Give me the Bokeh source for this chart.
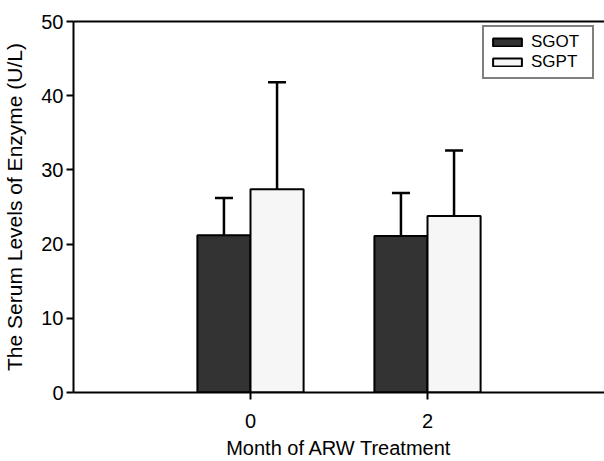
from bokeh.plotting import figure
from bokeh.models import (ColumnDataSource, Whisker, TeeHead, Legend, LegendItem,
                          FixedTicker, LinearAxis)
from bokeh.embed import file_html
from bokeh.resources import INLINE

# Data
months = [0, 2]
tick_labels = {0: "0", 2: "2"}
y_ticks = [0, 10, 20, 30, 40, 50]
sgot = [21.2, 21.1]
sgot_sd = [5.0, 5.8]
sgpt = [27.4, 23.8]
sgpt_sd = [14.4, 8.8]
series_names = ["SGOT", "SGPT"]

offset = 0.3
bar_w = 0.6
FONT = "Liberation Sans"

src_got = ColumnDataSource(dict(
    x=[m - offset for m in months], top=sgot,
    upper=[v + s for v, s in zip(sgot, sgot_sd)]))
src_gpt = ColumnDataSource(dict(
    x=[m + offset for m in months], top=sgpt,
    upper=[v + s for v, s in zip(sgpt, sgpt_sd)]))

p = figure(width=604, height=461, x_range=(-2, 4), y_range=(0, 50),
           output_backend="svg", toolbar_location=None,
           min_border_left=71, min_border_right=0, min_border_top=21,
           min_border_bottom=68)
p.grid.visible = False
p.outline_line_color = None
p.background_fill_color = "white"

r1 = p.vbar(x="x", top="top", width=bar_w, source=src_got, bottom=0,
            fill_color="#333333", line_color="black", line_width=2)
r2 = p.vbar(x="x", top="top", width=bar_w, source=src_gpt, bottom=0,
            fill_color="#f6f6f6", line_color="black", line_width=2)

for src in (src_got, src_gpt):
    w = Whisker(source=src, base="x", upper="upper", lower="top",
                dimension="height", line_width=2.5, line_color="black",
                upper_head=TeeHead(size=18, line_width=2.5, line_color="black"),
                lower_head=None)
    p.add_layout(w)

xax = p.below[0]
yax = p.left[0]

# Axes
for ax in (xax, yax):
    ax.axis_line_width = 2
    ax.axis_line_color = "black"
    ax.major_tick_line_width = 2
    ax.major_tick_line_color = "black"
    ax.major_tick_in = 0
    ax.major_tick_out = 7
    ax.minor_tick_line_color = None
    ax.major_label_text_font = FONT
    ax.major_label_text_font_size = "20px"
    ax.major_label_text_color = "black"
    ax.axis_label_text_font = FONT
    ax.axis_label_text_font_style = "normal"
    ax.axis_label_text_color = "black"

xax.ticker = FixedTicker(ticks=months)
xax.major_label_overrides = tick_labels
xax.axis_label = "Month of ARW Treatment"
xax.axis_label_text_font_size = "20px"
xax.major_label_text_line_height = 0.8
xax.axis_label_text_line_height = 0.8
xax.major_label_standoff = 14
xax.axis_label_standoff = 6

yax.ticker = FixedTicker(ticks=y_ticks)
yax.axis_label = "The Serum Levels of Enzyme (U/L)"
yax.axis_label_text_font_size = "21px"
yax.major_label_standoff = 3
yax.axis_label_standoff = 12

# Top frame line (no ticks, no labels)
top_axis = LinearAxis(ticker=FixedTicker(ticks=[]), axis_line_width=2,
                      axis_line_color="black", major_tick_line_color=None,
                      minor_tick_line_color=None, major_label_text_font_size="0px",
                      major_tick_out=0, major_tick_in=0, major_label_standoff=0)
p.add_layout(top_axis, "above")

legend = Legend(items=[LegendItem(label=series_names[0], renderers=[r1]),
                       LegendItem(label=series_names[1], renderers=[r2])],
                location=(409, 313))
legend.border_line_color = "black"
legend.border_line_width = 2
legend.background_fill_color = "white"
legend.background_fill_alpha = 1
legend.label_text_font = FONT
legend.label_text_font_size = "17px"
legend.label_text_font_style = "normal"
legend.label_text_line_height = 0.75
legend.label_text_color = "black"
legend.glyph_width = 36
legend.glyph_height = 10
legend.label_height = 13
legend.label_width = 56
legend.label_standoff = 6
legend.spacing = 0
legend.padding = 5
legend.margin = 0
p.add_layout(legend, "center")

open("out.html", "w").write(file_html(p, INLINE))
